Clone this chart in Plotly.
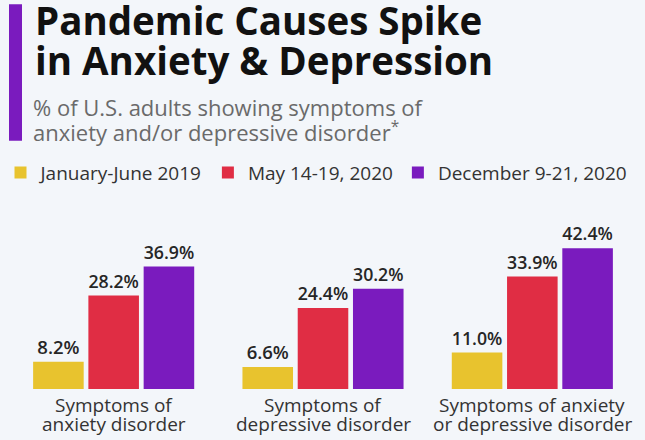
import plotly.graph_objects as go

# data
categories = ["Symptoms of<br>anxiety disorder",
              "Symptoms of<br>depressive disorder",
              "Symptoms of anxiety<br>or depressive disorder"]
periods = ["January-June 2019", "May 14-19, 2020", "December 9-21, 2020"]
jan_jun_2019 = [8.2, 6.6, 11.0]
may_2020 = [28.2, 24.4, 33.9]
dec_2020 = [36.9, 30.2, 42.4]
series = [jan_jun_2019, may_2020, dec_2020]
colors = ["#E8C32E", "#E02D44", "#7A1BBE"]

title_lines = ["Pandemic Causes Spike", "in Anxiety & Depression"]
subtitle_lines = ["% of U.S. adults showing symptoms of",
                  "anxiety and/or depressive disorder<sup>*</sup>"]

W, H = 645, 440
# plot area in page pixels
PLOT_L, PLOT_R, PLOT_T, PLOT_B = 9, 637, 222.5, 389
FONT = "Open Sans"


def xp(px):
    return (px - PLOT_L) / (PLOT_R - PLOT_L)


def yp(py):
    return (PLOT_B - py) / (PLOT_B - PLOT_T)


fig = go.Figure()
for name, vals, col in zip(periods, series, colors):
    fig.add_trace(go.Bar(
        x=categories,
        y=vals,
        name=name,
        marker=dict(color=col, line=dict(width=0)),
        texttemplate="%{y:.1f}%",
        textposition="outside",
        textfont=dict(family=FONT, size=18.5, color="#262626", weight=600),
        cliponaxis=False,
        hoverinfo="skip",
    ))

annotations = []
for i, line in enumerate(title_lines):
    annotations.append(dict(
        text=line, x=xp(33), y=yp(19 + 40.5 * i), xref="paper", yref="paper",
        xanchor="left", yanchor="middle", showarrow=False,
        font=dict(family=FONT, size=38.5, color="#111111", weight=700)))
for i, line in enumerate(subtitle_lines):
    annotations.append(dict(
        text=line, x=xp(31), y=yp(106 + 25 * i), xref="paper", yref="paper",
        xanchor="left", yanchor="middle", showarrow=False,
        font=dict(family=FONT, size=22, color="#6a6a6a")))
# category labels, one annotation per line for the tight leading
for cat in categories:
    for i, line in enumerate(cat.split("<br>")):
        annotations.append(dict(
            text=line, x=cat, y=yp(405 + 19 * i), xref="x", yref="paper",
            xanchor="center", yanchor="middle", showarrow=False,
            font=dict(family=FONT, size=19, color="#333333")))

fig.update_layout(
    width=W, height=H,
    # fixed margins: the legend sits left of the plot area and must not push it
    margin=dict(l=PLOT_L, r=W - PLOT_R, t=PLOT_T, b=H - PLOT_B, pad=0,
                autoexpand=False),
    paper_bgcolor="#F3F6FA",
    plot_bgcolor="#F3F6FA",
    barmode="group",
    bargap=0.208,
    bargroupgap=0.085,
    font=dict(family=FONT, color="#333333"),
    showlegend=True,
    legend=dict(orientation="h", x=xp(0.5), y=yp(172), xanchor="left",
                yanchor="middle", font=dict(family=FONT, size=19, color="#333333"),
                bgcolor="rgba(0,0,0,0)", itemclick=False, itemdoubleclick=False),
    annotations=annotations,
    shapes=[dict(type="rect", xref="paper", yref="paper",
                 x0=xp(9), x1=xp(22), y0=yp(140), y1=yp(3),
                 fillcolor="#7A1BBE", line=dict(width=0))],
)
fig.update_xaxes(showticklabels=False, showgrid=False, zeroline=False,
                 showline=False, ticks="")
fig.update_yaxes(range=[0, 50], visible=False, showgrid=False, zeroline=False)

# drop the default body margin so the 645x440 figure fills the window
fig.write_html("out.html", config={"displayModeBar": False},
               post_script="document.body.style.margin='0';"
                           "document.body.style.overflow='hidden';")
